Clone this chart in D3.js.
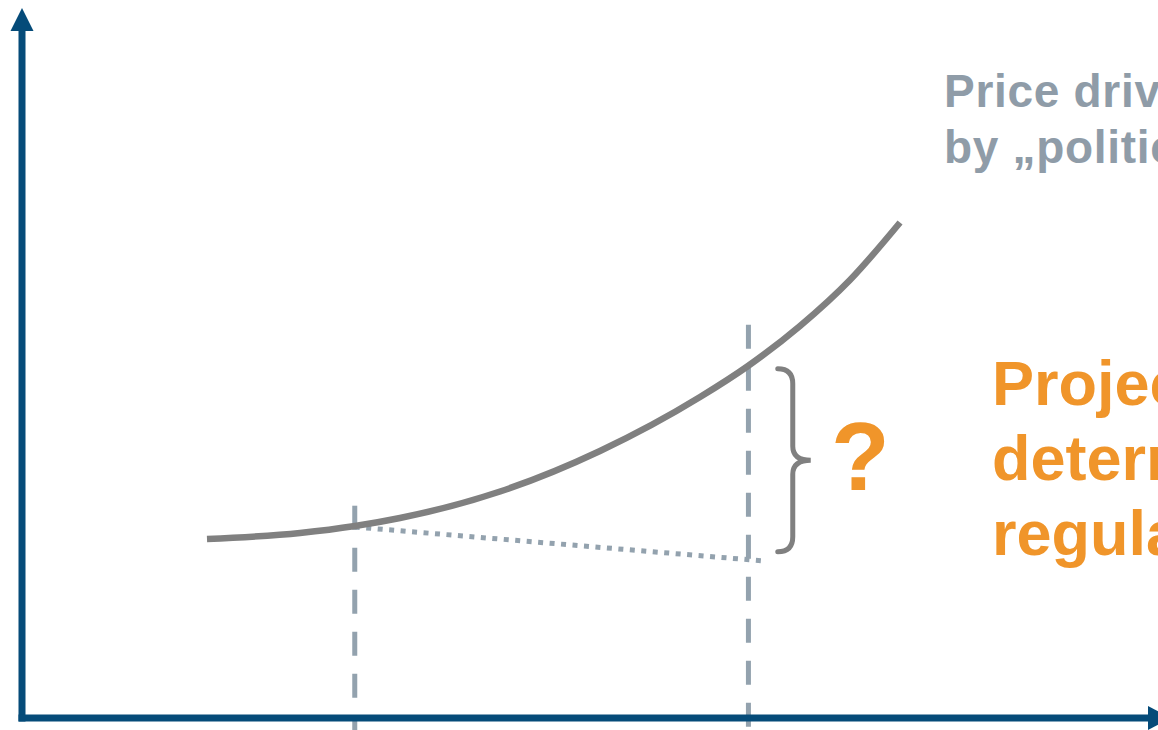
<!DOCTYPE html>
<html>
<head>
<meta charset="utf-8">
<script src="https://cdn.jsdelivr.net/npm/d3@7"></script>
<style>
  html, body { margin: 0; padding: 0; background: #fff; overflow: hidden; }
  svg { display: block; }
</style>
</head>
<body>
<svg id="chart" width="1158" height="730"></svg>
<script>
// ---- data (abstract units: time 0..100, price 0..100) ----
const curveTime  = [16.40, 24.65, 29.52, 33.51, 42.38, 51.24, 60.11, 64.36, 68.97, 73.40, 77.84];
const curvePrice = [25.21, 26.06, 27.04, 28.17, 31.90, 37.61, 45.21, 49.58, 55.21, 61.69, 69.79];
const markerTimes = [29.5, 64.4];
const markerTops  = [29.9, 55.4];
const projTime  = [29.5, 65.9];
const projPrice = [26.9, 22.1];
const braceRange = [49.2, 23.4];
const labelGray = ["Price driven", "by \u201Epolitical\u201C"];
const labelOrange = ["Project", "determined", "regulation"];

const W = 1158, H = 730;
const svg = d3.select("#chart");
const x = d3.scaleLinear().domain([0, 100]).range([22, 1150]);
const y = d3.scaleLinear().domain([0, 100]).range([718, 8]);

const AXIS = "#054b79", CURVE = "#808080", DASH = "#93a2ae", GRAYTXT = "#8f9ca8", ORANGE = "#f0952a";

// dashed verticals
svg.selectAll("line.marker").data(markerTimes).join("line")
  .attr("class", "marker")
  .attr("x1", d => x(d)).attr("x2", d => x(d))
  .attr("y1", (d, i) => y(markerTops[i])).attr("y2", y(-2))
  .attr("stroke", DASH).attr("stroke-width", 5)
  .attr("stroke-dasharray", "24,18");

// dotted projection line
svg.append("line")
  .attr("x1", x(projTime[0])).attr("y1", y(projPrice[0]))
  .attr("x2", x(projTime[1])).attr("y2", y(projPrice[1]))
  .attr("stroke", DASH).attr("stroke-width", 5)
  .attr("stroke-dasharray", "5,6.5");

// main curve
const pts = curveTime.map((t, i) => [t, curvePrice[i]]);
svg.append("path")
  .datum(pts)
  .attr("fill", "none")
  .attr("stroke", CURVE).attr("stroke-width", 6.5)
  .attr("d", d3.line().x(d => x(d[0])).y(d => y(d[1])).curve(d3.curveMonotoneX));

// brace
const bx = x(67.0), yT = y(braceRange[0]), yB = y(braceRange[1]), yM = (yT + yB) / 2;
const bw = 15;
svg.append("path")
  .attr("fill", "none").attr("stroke", CURVE).attr("stroke-width", 5)
  .attr("stroke-linecap", "round")
  .attr("d", `M${bx},${yT} Q${bx + bw},${yT} ${bx + bw},${yT + 15} L${bx + bw},${yM - 14} Q${bx + bw},${yM} ${bx + 33},${yM} Q${bx + bw},${yM} ${bx + bw},${yM + 14} L${bx + bw},${yB - 15} Q${bx + bw},${yB} ${bx},${yB}`);

// question mark
svg.append("text")
  .attr("x", 831).attr("y", 490)
  .attr("font-family", "Liberation Sans, Arial, sans-serif")
  .attr("font-weight", "bold").attr("font-size", 96)
  .attr("fill", ORANGE).text("?");

// axes
svg.append("line")
  .attr("x1", x(0)).attr("y1", y(0) + 3.5).attr("x2", x(0)).attr("y2", 30)
  .attr("stroke", AXIS).attr("stroke-width", 7);
svg.append("path")
  .attr("d", `M${x(0) - 11.5},31 L${x(0)},8 L${x(0) + 11.5},31 Z`)
  .attr("fill", AXIS);
svg.append("line")
  .attr("x1", x(0) - 3.5).attr("y1", y(0)).attr("x2", 1149).attr("y2", y(0))
  .attr("stroke", AXIS).attr("stroke-width", 7);
svg.append("path")
  .attr("d", `M1148,${y(0) - 12} L1171,${y(0)} L1148,${y(0) + 12} Z`)
  .attr("fill", AXIS);

// gray label
svg.append("g").selectAll("text").data(labelGray).join("text")
  .attr("x", 944).attr("y", (d, i) => 107 + i * 56)
  .attr("font-family", "Liberation Sans, Arial, sans-serif")
  .attr("font-weight", "bold").attr("font-size", 46)
  .attr("letter-spacing", 0.7)
  .attr("fill", GRAYTXT).text(d => d);

// orange label
svg.append("g").selectAll("text").data(labelOrange).join("text")
  .attr("x", 992).attr("y", (d, i) => 405 + i * 75)
  .attr("font-family", "Liberation Sans, Arial, sans-serif")
  .attr("font-weight", "bold").attr("font-size", 63)
  .attr("fill", ORANGE).text(d => d);
</script>
</body>
</html>
